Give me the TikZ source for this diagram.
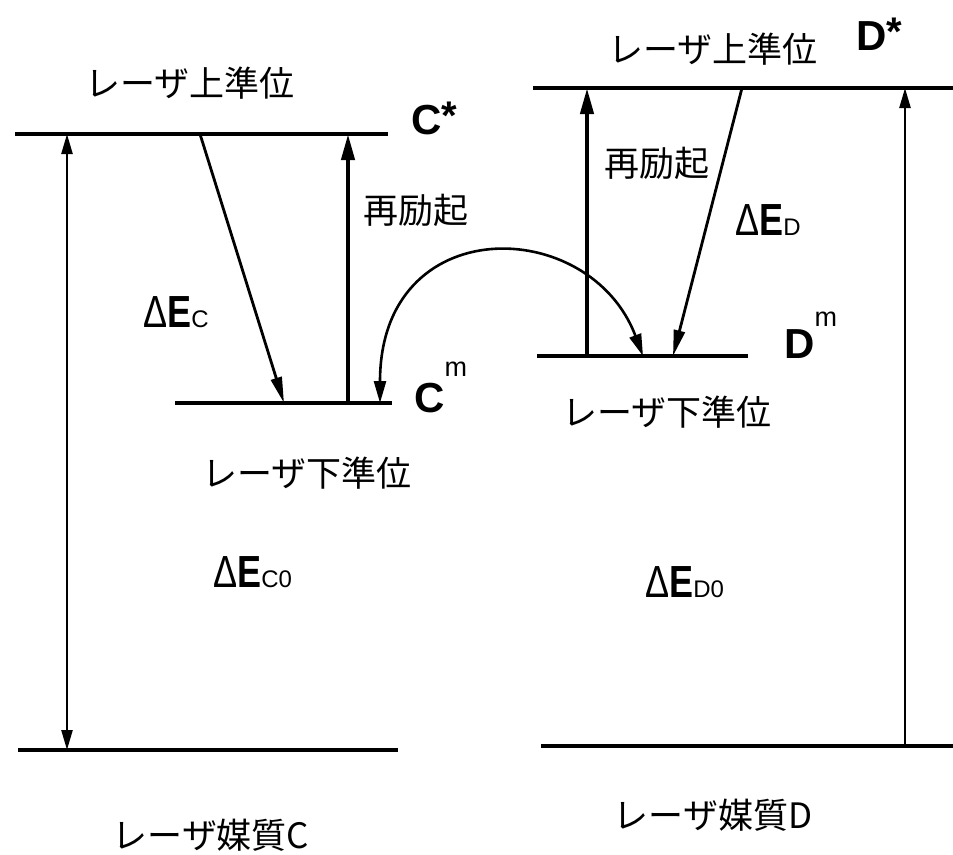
\documentclass[tikz,border=0pt]{standalone}
\usepackage{fontspec}
\setmainfont{Liberation Sans}
\newfontfamily\jpfont{Noto Sans CJK JP}
\usetikzlibrary{arrows.meta}

\begin{document}
\begin{tikzpicture}[x=1pt, y=-1pt,
  lvl/.style={line width=3.6pt},
  gapline/.style={line width=2.4pt},
  pump/.style={line width=4.2pt, -{Triangle[length=26pt,width=13pt]}},
  decay/.style={line width=2.8pt, -{Triangle[length=26pt,width=11pt]}},
  jp/.style={font=\jpfont\fontsize{35}{40}\selectfont, inner sep=0pt},
  gap/.style={font=\fontsize{45}{48}\selectfont, anchor=base west, inner sep=0pt},
  state/.style={font=\bfseries\fontsize{42}{46}\selectfont, anchor=base west, inner sep=0pt}]
  % energy gap label: thin delta, bold E, small index
  \newcommand{\dE}[1]{\scalebox{0.8}[1]{Δ\textbf{E}}{\fontsize{24}{24}\selectfont #1}}
  \useasboundingbox (0,0) rectangle (953,854);
  % ---------------------------------------------------------------- laser medium C
  % levels
  \coordinate (cu-w) at (15,134);  \coordinate (cu-e) at (388,134);
  \coordinate (cm-w) at (175,403); \coordinate (cm-e) at (392,403);
  \coordinate (c0-w) at (18,750);  \coordinate (c0-e) at (398,750);
  \draw[lvl] (cu-w) -- (cu-e);
  \draw[lvl] (cm-w) -- (cm-e);
  \draw[lvl] (c0-w) -- (c0-e);
  % transitions
  \coordinate (cgap-t) at (67,134);   \coordinate (cgap-b) at (67,750);
  \coordinate (cdec-t) at (200,134);  \coordinate (cdec-b) at (284,403);
  \coordinate (cpump-t) at (348,134); \coordinate (cpump-b) at (348,403);
  \draw[gapline, {Triangle[length=20pt,width=11pt]}-{Triangle[length=20pt,width=11pt]}] (cgap-t) -- (cgap-b);
  \draw[decay] (cdec-t) -- (cdec-b);
  \draw[pump] (cpump-b) -- (cpump-t);
  % labels
  \node[jp] (cupper) at (190,83) {レーザ上準位};
  \node[state] (cstar) at (411,134) {C{\fontsize{40}{40}\selectfont\raisebox{5pt}{*}}};
  \node[jp] (cre) at (416,210) {再励起};
  \node[gap] (dec) at (143,327) {\dE{C}};
  \node[state] (cmeta) at (414,412) {C\raisebox{36pt}{\fontsize{27}{27}\selectfont\mdseries m}};
  \node[jp] (clower) at (307,473) {レーザ下準位};
  \node[gap] (dec0) at (213,587) {\dE{C0}};
  \node[jp] (cmedium) at (211,835) {レーザ媒質C};
  % ---------------------------------------------------------------- laser medium D
  % levels
  \coordinate (du-w) at (533,88);  \coordinate (du-e) at (953,88);
  \coordinate (dm-w) at (537,356); \coordinate (dm-e) at (748,356);
  \coordinate (d0-w) at (541,746); \coordinate (d0-e) at (953,746);
  \draw[lvl] (du-w) -- (du-e);
  \draw[lvl] (dm-w) -- (dm-e);
  \draw[lvl] (d0-w) -- (d0-e);
  % transitions
  \coordinate (dpump-t) at (587,88);  \coordinate (dpump-b) at (587,356);
  \coordinate (ddec-t) at (742,88);   \coordinate (ddec-b) at (673,356);
  \coordinate (dgap-t) at (905,88);   \coordinate (dgap-b) at (905,746);
  \draw[pump] (dpump-b) -- (dpump-t);
  \draw[decay] (ddec-t) -- (ddec-b);
  \draw[gapline, -{Triangle[length=20pt,width=11pt]}] (dgap-b) -- (dgap-t);
  % labels
  \node[jp] (dupper) at (713,49) {レーザ上準位};
  \node[state] (dstar) at (856,50) {D{\fontsize{40}{40}\selectfont\raisebox{5pt}{*}}};
  \node[jp] (dre) at (657,163) {再励起};
  \node[gap] (ded) at (735,235) {\dE{D}};
  \node[state] (dmeta) at (784,358) {D\raisebox{32pt}{\fontsize{27}{27}\selectfont\mdseries m}};
  \node[jp] (dlower) at (667,412) {レーザ下準位};
  \node[gap] (ded0) at (645,597) {\dE{D0}};
  \node[jp] (dmedium) at (713,815) {レーザ媒質D};
  % ---------------------------------------------------------------- exchange between the lower levels
  \coordinate (xc) at (380,403);
  \coordinate (xd) at (643,356);
  \draw[line width=2.6pt, {Triangle[length=22pt,width=12pt]}-{Triangle[length=22pt,width=12pt]}]
    (xc) .. controls (380,210) and (590,215) .. (xd);
\end{tikzpicture}
\end{document}
